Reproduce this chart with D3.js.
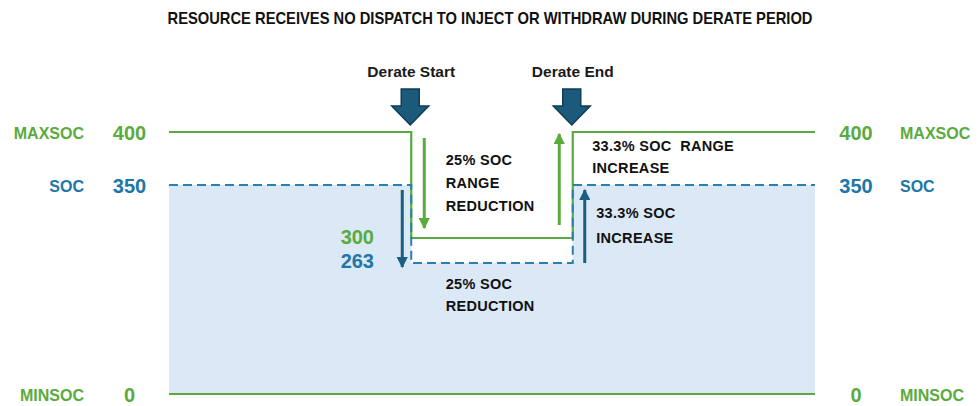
<!DOCTYPE html>
<html><head><meta charset="utf-8">
<script src="https://cdn.jsdelivr.net/npm/d3@7"></script>
<style>body{margin:0;background:#fff}svg{display:block}text{font-family:"Liberation Sans",Arial,sans-serif;font-weight:bold}</style>
</head><body>
<script>
// ---- data ----
const title = "RESOURCE RECEIVES NO DISPATCH TO INJECT OR WITHDRAW DURING DERATE PERIOD";
const levelNames = ["MAXSOC", "SOC", "MINSOC"];
const levelValues = [400, 350, 0];
const deratedMaxsoc = 300;
const deratedSoc = 263;
const derateTimes = [37.5, 62.5];        // derate start / end on a 0..100 timeline
const derateLabels = ["Derate Start", "Derate End"];
const maxsocSeries = [[0, 400], [37.5, 300], [62.5, 400], [100, 400]];
const socSeries = [[0, 350], [37.5, 263], [62.5, 350], [100, 350]];
const minsocSeries = [[0, 0], [100, 0]];
const noteRangeReduction = ["25% SOC", "RANGE", "REDUCTION"];
const noteSocReduction = ["25% SOC", "REDUCTION"];
const noteRangeIncrease = ["33.3% SOC\u00a0\u00a0RANGE", "INCREASE"];
const noteSocIncrease = ["33.3% SOC", "INCREASE"];

const W = 978, H = 406;
const GREEN = "#5aab3e", BLUE_T = "#2076a7", BLUE_L = "#2b7fae", DARK = "#1b5f80", FILL = "#dbe8f6";

const svg = d3.select("body").append("svg").attr("width", W).attr("height", H);
const x = d3.scaleLinear().domain([0, 100]).range([169, 815]);
// schematic (non-proportional) vertical scale
const y = d3.scaleLinear().domain([0, 263, 300, 350, 400]).range([394, 263, 238, 185, 132]);

const defs = svg.append("defs");
function marker(id, color) {
  defs.append("marker").attr("id", id).attr("viewBox", "0 0 10 10").attr("refX", 9).attr("refY", 5)
    .attr("markerWidth", 3.8).attr("markerHeight", 3.8).attr("markerUnits", "strokeWidth").attr("orient", "auto")
    .append("path").attr("d", "M0,0L10,5L0,10Z").attr("fill", color);
}
marker("ag", GREEN); marker("ab", DARK);

// area
svg.append("path").datum(socSeries)
  .attr("d", d3.area().curve(d3.curveStepAfter).x(d => x(d[0])).y0(y(0)).y1(d => y(d[1])))
  .attr("fill", FILL);

const line = d3.line().curve(d3.curveStepAfter).x(d => x(d[0])).y(d => y(d[1]));
svg.append("path").datum(maxsocSeries).attr("d", line).attr("fill", "none").attr("stroke", GREEN).attr("stroke-width", 2.2);
svg.append("path").datum(socSeries).attr("d", line).attr("fill", "none").attr("stroke", BLUE_L).attr("stroke-width", 2).attr("stroke-dasharray", "9,5");
svg.append("path").datum(minsocSeries).attr("d", line).attr("fill", "none").attr("stroke", GREEN).attr("stroke-width", 2.2);

// title
svg.append("text").attr("x", x(50) - 2).attr("y", 18).attr("text-anchor", "middle").attr("dominant-baseline", "central")
  .style("font-family", "'Liberation Sans Narrow','Arial Narrow','Liberation Sans',sans-serif")
  .attr("font-size", 17).attr("fill", "#111").attr("textLength", 645).attr("lengthAdjust", "spacingAndGlyphs").text(title);

// level labels
const colors = [GREEN, BLUE_T, GREEN];
levelNames.forEach((n, i) => {
  const yy = y(levelValues[i]) + 1;
  svg.append("text").attr("x", 84).attr("y", yy).attr("text-anchor", "end").attr("dominant-baseline", "central")
    .attr("font-size", 16).attr("fill", colors[i]).text(n);
  svg.append("text").attr("x", 900).attr("y", yy).attr("text-anchor", "start").attr("dominant-baseline", "central")
    .attr("font-size", 16).attr("fill", colors[i]).text(n);
  svg.append("text").attr("x", 129.5).attr("y", yy).attr("text-anchor", "middle").attr("dominant-baseline", "central")
    .attr("font-size", 20).attr("fill", colors[i]).text(levelValues[i]);
  svg.append("text").attr("x", 856).attr("y", yy).attr("text-anchor", "middle").attr("dominant-baseline", "central")
    .attr("font-size", 20).attr("fill", colors[i]).text(levelValues[i]);
});
svg.append("text").attr("x", 374).attr("y", y(deratedMaxsoc) - 1).attr("text-anchor", "end").attr("dominant-baseline", "central")
  .attr("font-size", 20).attr("fill", GREEN).text(deratedMaxsoc);
svg.append("text").attr("x", 374).attr("y", y(deratedSoc) - 2).attr("text-anchor", "end").attr("dominant-baseline", "central")
  .attr("font-size", 20).attr("fill", BLUE_T).text(deratedSoc);

// derate block arrows + labels
derateTimes.forEach((t, i) => {
  const cx = x(t) - 1;
  svg.append("text").attr("x", cx + 1).attr("y", 71).attr("text-anchor", "middle").attr("dominant-baseline", "central")
    .attr("font-size", 15.5).attr("fill", "#1a1a1a").text(derateLabels[i]);
  const top = 89, hs = 106, tip = 125, sw = 9, hw = 18.5;
  svg.append("path").attr("d", `M${cx - sw},${top}H${cx + sw}V${hs}H${cx + hw}L${cx},${tip}L${cx - hw},${hs}H${cx - sw}Z`)
    .attr("fill", "#1b5a7b").attr("stroke", "#0f3d55").attr("stroke-width", 1.5).attr("stroke-linejoin", "miter");
});

// small arrows
function arrow(x0, y0, y1, color, mid) {
  svg.append("line").attr("x1", x0).attr("x2", x0).attr("y1", y0).attr("y2", y1)
    .attr("stroke", color).attr("stroke-width", 3).attr("marker-end", `url(#${mid})`);
}
const xs = x(derateTimes[0]), xe = x(derateTimes[1]);
arrow(xs + 13, y(400) + 6, y(deratedMaxsoc) - 10, GREEN, "ag");
arrow(xs - 9, y(350) + 5, y(deratedSoc) + 4, DARK, "ab");
arrow(xe - 13.5, y(deratedMaxsoc) - 13, y(400) + 2, GREEN, "ag");
arrow(xe + 12, y(deratedSoc), y(350) + 5, DARK, "ab");

// notes
function note(lines, x0, ys) {
  lines.forEach((l, i) => svg.append("text").attr("x", x0).attr("y", ys[i]).attr("dominant-baseline", "central")
    .attr("font-size", 14.5).attr("letter-spacing", 0.3).attr("fill", "#111").text(l));
}
note(noteRangeReduction, xs + 34.5, [160, 183, 205.5]);
note(noteSocReduction, xs + 34.5, [284, 306]);
note(noteRangeIncrease, xe + 19.5, [146, 168]);
note(noteSocIncrease, xe + 23.5, [213, 238]);
</script>
</body></html>
